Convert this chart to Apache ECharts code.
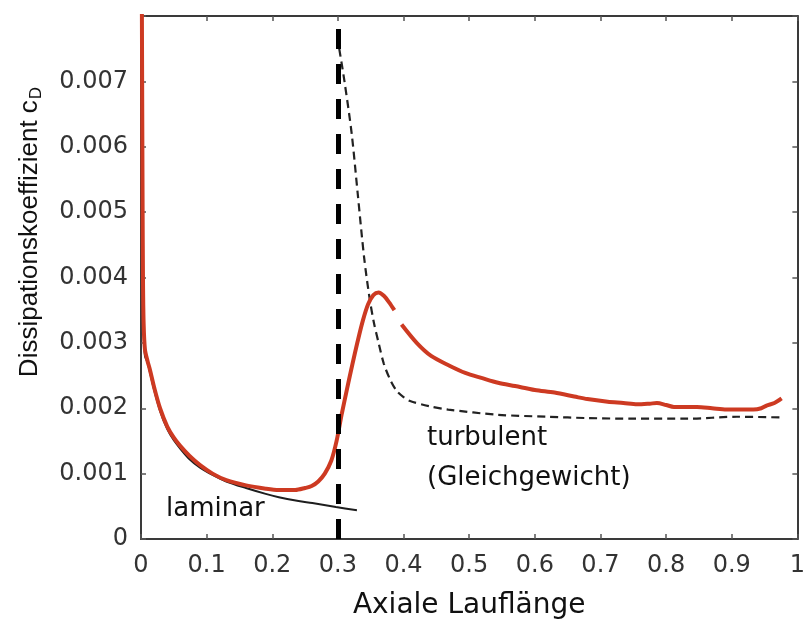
<!DOCTYPE html>
<html>
<head>
    <meta charset="utf-8">
    <title>Dissipationskoeffizient</title>
    <script src="https://cdn.jsdelivr.net/npm/echarts@6/dist/echarts.min.js"></script>
    <style>
        html, body {
            margin: 0;
            width: 100%;
            height: 100%;
            background: #fff;
        }

        #main {
            width: 808px;
            height: 627px;
        }
    </style>
</head>
<body>
<div id="main"></div>
<script type="text/javascript">
    var myChart = echarts.init(document.getElementById('main'));

    // Ticks
    const xTicks = [0, 0.1, 0.2, 0.3, 0.4, 0.5, 0.6, 0.7, 0.8, 0.9, 1];
    const yTicks = [0, 0.001, 0.002, 0.003, 0.004, 0.005, 0.006, 0.007, 0.008];

    // Umschlagposition (dicke Strichlinie)
    const transitionX = 0.297;

    // gemessener Verlauf (rot), null = Lücke im Bild
    const measX = [0.0012, 0.0018, 0.0024, 0.003, 0.004, 0.006, 0.01, 0.0136, 0.02, 0.029,
        0.04, 0.05, 0.06, 0.074, 0.09, 0.109, 0.13, 0.16, 0.19, 0.21,
        0.235, 0.25, 0.26, 0.27, 0.28, 0.29, 0.298, 0.306, 0.314, 0.322,
        0.33, 0.338, 0.346, 0.354, 0.362, 0.37, 0.378, 0.386, 0.391, 0.397,
        0.42, 0.442, 0.47, 0.494, 0.52, 0.544, 0.57, 0.6, 0.63, 0.66,
        0.68, 0.711, 0.735, 0.756, 0.775, 0.786, 0.8, 0.812, 0.847, 0.87,
        0.892, 0.933, 0.945, 0.953, 0.965, 0.976];
    const measCd = [0.0085, 0.0068, 0.0052, 0.0040, 0.0033, 0.0029, 0.00272, 0.00259, 0.00232, 0.00200,
        0.00172, 0.00155, 0.00142, 0.00127, 0.00113, 0.00100, 0.00090, 0.00082, 0.00077, 0.00075,
        0.00075, 0.00078, 0.00081, 0.00088, 0.00100, 0.00120, 0.00150, 0.00192, 0.00230, 0.00267,
        0.00302, 0.00334, 0.00359, 0.00373, 0.00377, 0.00372, 0.00362, 0.00350, null, 0.00328,
        0.00300, 0.00280, 0.00265, 0.00254, 0.00246, 0.00239, 0.00234, 0.00228, 0.00224, 0.00218,
        0.00214, 0.00210, 0.00208, 0.00206, 0.00207, 0.00208, 0.00205, 0.00202, 0.00202, 0.00200,
        0.00198, 0.00198, 0.00200, 0.00204, 0.00208, 0.00215];

    // laminar (schwarz)
    const lamX = [0.0012, 0.0018, 0.0024, 0.003, 0.004, 0.006, 0.01, 0.0136, 0.02, 0.029,
        0.04, 0.05, 0.06, 0.074, 0.09, 0.109, 0.13, 0.16, 0.19, 0.21,
        0.24, 0.261, 0.297, 0.329];
    const lamCd = [0.0085, 0.0066, 0.0050, 0.0039, 0.0032, 0.0028, 0.0027, 0.00255, 0.00228, 0.00196,
        0.00168, 0.00151, 0.00138, 0.00122, 0.00109, 0.00098, 0.00088, 0.00078, 0.00069, 0.00064,
        0.00058, 0.00055, 0.00049, 0.00044];

    // turbulent, Gleichgewicht (schwarz gestrichelt)
    const turbX = [0.302, 0.31, 0.321, 0.33, 0.34, 0.348, 0.355, 0.362, 0.37, 0.38,
        0.39, 0.40, 0.41, 0.44, 0.468, 0.544, 0.62, 0.68, 0.75, 0.832, 0.908, 0.973];
    const turbCd = [0.0075, 0.0070, 0.0062, 0.0053, 0.0043, 0.0037, 0.0033, 0.0030, 0.00268, 0.00243,
        0.00226, 0.00217, 0.00211, 0.00203, 0.00198, 0.0019, 0.00187, 0.00185, 0.00184, 0.00184, 0.00187, 0.00186];

    const zip = (xs, ys) => xs.map((x, i) => [x, ys[i] === null ? '-' : ys[i]]);

    const axisColor = '#3a3a3a';
    const labelFont = 'DejaVu Sans';

    function frameAxis(extra) {
        return Object.assign({
            type: 'value',
            axisLine: {show: true, onZero: false, lineStyle: {color: axisColor, width: 2}},
            axisTick: {show: true, inside: true, length: 5, lineStyle: {color: '#555', width: 1.5}},
            splitLine: {show: false}
        }, extra);
    }

    var option = {
        animation: false,
        backgroundColor: '#fff',
        grid: {left: 141, right: 6, top: 16, bottom: 88},
        xAxis: [
            frameAxis({
                min: 0, max: 1, interval: 0.1,
                name: 'Axiale Lauflänge',
                nameLocation: 'middle',
                nameGap: 53,
                nameTextStyle: {fontFamily: labelFont, fontSize: 28, color: '#111'},
                axisLabel: {
                    fontFamily: labelFont, fontSize: 24, color: '#333', margin: 15,
                    formatter: v => xTicks.includes(+v.toFixed(1)) ? String(+v.toFixed(1)) : ''
                }
            }),
            frameAxis({min: 0, max: 1, interval: 0.1, position: 'top', axisLabel: {show: false}})
        ],
        yAxis: [
            frameAxis({
                min: 0, max: 0.008, interval: 0.001,
                axisLabel: {
                    fontFamily: labelFont, fontSize: 24, color: '#333', margin: 13,
                    formatter: v => {
                        const t = +v.toFixed(3);
                        if (t === yTicks[yTicks.length - 1]) return '';
                        return t === 0 ? '0' : t.toFixed(3);
                    }
                }
            }),
            frameAxis({min: 0, max: 0.008, interval: 0.001, position: 'right', axisLabel: {show: false}})
        ],
        graphic: [
            {
                type: 'text',
                x: 30, y: 232,
                rotation: Math.PI / 2,
                style: {
                    text: 'Dissipationskoeffizient c{sub|D}',
                    fontFamily: 'Liberation Sans',
                    fontSize: 26,
                    fill: '#111',
                    align: 'center',
                    verticalAlign: 'middle',
                    rich: {
                        sub: {fontFamily: 'Liberation Sans', fontSize: 17, fill: '#111', padding: [12, 0, 0, 1]}
                    }
                }
            },
            {
                type: 'text', left: 166, top: 496,
                style: {text: 'laminar', fontFamily: labelFont, fontSize: 26, fill: '#111'}
            },
            {
                type: 'text', left: 427, top: 425,
                style: {text: 'turbulent', fontFamily: labelFont, fontSize: 26, fill: '#111'}
            },
            {
                type: 'text', left: 427, top: 465,
                style: {text: '(Gleichgewicht)', fontFamily: labelFont, fontSize: 26, fill: '#111'}
            }
        ],
        series: [
            {
                name: 'laminar',
                type: 'line',
                data: zip(lamX, lamCd),
                smooth: 0.3,
                showSymbol: false,
                lineStyle: {color: '#1e1e1e', width: 2},
                z: 2,
                markLine: {
                    silent: true,
                    symbol: 'none',
                    label: {show: false},
                    lineStyle: {color: '#000', width: 5, type: [20, 15]},
                    data: [{xAxis: transitionX}]
                }
            },
            {
                name: 'turbulent',
                type: 'line',
                data: zip(turbX, turbCd),
                smooth: 0.3,
                showSymbol: false,
                lineStyle: {color: '#222', width: 2.2, type: [8, 5]},
                z: 3
            },
            {
                name: 'gemessen',
                type: 'line',
                data: zip(measX, measCd),
                smooth: 0.3,
                connectNulls: false,
                showSymbol: false,
                lineStyle: {color: '#cd3a22', width: 4},
                z: 4
            }
        ]
    };

    myChart.setOption(option);
</script>
</body>
</html>
